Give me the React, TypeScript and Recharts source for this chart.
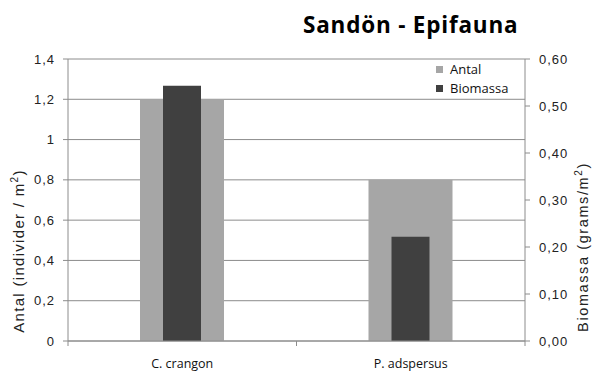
import { BarChart, Bar, XAxis, YAxis, CartesianGrid, Legend } from 'recharts';

const categories = ['C. crangon', 'P. adspersus'];
const antal = [1.2, 0.8];
const biomassa = [0.543, 0.222];
const leftTicks = [0, 0.2, 0.4, 0.6, 0.8, 1, 1.2, 1.4];
const rightTicks = [0, 0.1, 0.2, 0.3, 0.4, 0.5, 0.6];

const data = categories.map((name, i) => ({
  name,
  Antal: antal[i],
  Biomassa: biomassa[i],
}));

const AXIS = '#8c8c8c';
const tickFont = {
  fontSize: 13,
  fill: '#222',
  fontFamily: 'Liberation Sans, Arial, sans-serif',
  letterSpacing: 1,
};
const X_MARGIN = 24;

const comma = (v: number, d: number) => v.toFixed(d).replace('.', ',');

// category label plus excel-style tick marks on the category boundaries
const CategoryTick = (props: any) => {
  const { x, y, payload, index, visibleTicksCount, width } = props;
  const half =
    payload && payload.offset ? payload.offset : width / visibleTicksCount / 2;
  const axisY = y - X_MARGIN;
  return (
    <g>
      <line x1={x - half} x2={x - half} y1={axisY} y2={axisY + 5} stroke={AXIS} />
      {index === visibleTicksCount - 1 && (
        <line x1={x + half} x2={x + half} y1={axisY} y2={axisY + 5} stroke={AXIS} />
      )}
      <text
        x={x}
        y={y}
        textAnchor="middle"
        dominantBaseline="middle"
        fontSize={12.5}
        fill="#111"
        fontFamily="Open Sans, sans-serif"
      >
        {payload.value}
      </text>
    </g>
  );
};

const LeftTitle = () => (
  <text
    x={20}
    y={251}
    transform="rotate(-90 20 251)"
    textAnchor="middle"
    dominantBaseline="middle"
    fontSize={15}
    fill="#222"
    fontFamily="Liberation Sans, Arial, sans-serif"
    letterSpacing={1.3}
  >
    Antal (individer / m
    <tspan dy={-5} fontSize={10}>2</tspan>
    <tspan dy={5}>)</tspan>
  </text>
);

const RightTitle = () => (
  <text
    x={584}
    y={247}
    transform="rotate(-90 584 247)"
    textAnchor="middle"
    dominantBaseline="middle"
    fontSize={14.5}
    fill="#222"
    fontFamily="Liberation Sans, Arial, sans-serif"
    letterSpacing={1.6}
  >
    Biomassa (grams/m
    <tspan dy={-5} fontSize={10}>2</tspan>
    <tspan dy={5}>)</tspan>
  </text>
);

const LegendBox = () => (
  <div style={{ fontFamily: 'Open Sans, sans-serif', fontSize: 13, color: '#111', lineHeight: '19px' }}>
    {[
      { name: 'Antal', color: '#a6a6a6' },
      { name: 'Biomassa', color: '#404040' },
    ].map((e) => (
      <div key={e.name} style={{ display: 'flex', alignItems: 'center' }}>
        <span style={{ width: 7, height: 7, background: e.color, marginRight: 7, display: 'inline-block' }} />
        {e.name}
      </div>
    ))}
  </div>
);

export default function App() {
  return (
    <div style={{ position: 'absolute', left: 0, top: 0, width: 592, height: 372, background: '#fff' }}>
      <div
        style={{
          position: 'absolute',
          left: 303,
          top: 10,
          fontFamily: 'Open Sans, sans-serif',
          fontWeight: 700,
          fontSize: 22.5,
          letterSpacing: 0.8,
          lineHeight: '30px',
          color: '#000',
        }}
      >
        Sandön - Epifauna
      </div>
      <BarChart
        width={592}
        height={372}
        data={data}
        margin={{ top: 59, right: 7, left: 18, bottom: 7 }}
      >
        <CartesianGrid
          yAxisId="left"
          xAxisId="a"
          vertical={false}
          stroke={AXIS}
        />
        <XAxis
          xAxisId="a"
          dataKey="name"
          height={24}
          axisLine={{ stroke: AXIS }}
          tickLine={false}
          tickSize={0}
          tickMargin={X_MARGIN}
          tick={CategoryTick}
        />
        <XAxis xAxisId="b" dataKey="name" hide />
        <YAxis
          yAxisId="left"
          width={50}
          domain={[0, 1.4]}
          ticks={leftTicks}
          interval={0}
          tickFormatter={(v: number) => (Number.isInteger(v) ? String(v) : comma(v, 1))}
          axisLine={{ stroke: AXIS }}
          tickLine={{ stroke: AXIS }}
          tickSize={5}
          tickMargin={8}
          tick={tickFont}
          label={{ content: LeftTitle }}
        />
        <YAxis
          yAxisId="right"
          orientation="right"
          width={60}
          domain={[0, 0.6]}
          ticks={rightTicks}
          interval={0}
          tickFormatter={(v: number) => comma(v, 2)}
          axisLine={{ stroke: AXIS }}
          tickLine={{ stroke: AXIS }}
          tickSize={5}
          tickMargin={9}
          tick={tickFont}
          label={{ content: RightTitle }}
        />
        <Legend
          layout="horizontal"
          verticalAlign="middle"
          align="center"
          content={LegendBox}
          wrapperStyle={{ position: 'absolute', left: 436, top: 60, width: 90 }}
        />
        <Bar
          dataKey="Antal"
          xAxisId="a"
          yAxisId="left"
          fill="#a6a6a6"
          barSize={84}
          isAnimationActive={false}
        />
        <Bar
          dataKey="Biomassa"
          xAxisId="b"
          yAxisId="right"
          fill="#404040"
          barSize={38}
          isAnimationActive={false}
        />
      </BarChart>
    </div>
  );
}
